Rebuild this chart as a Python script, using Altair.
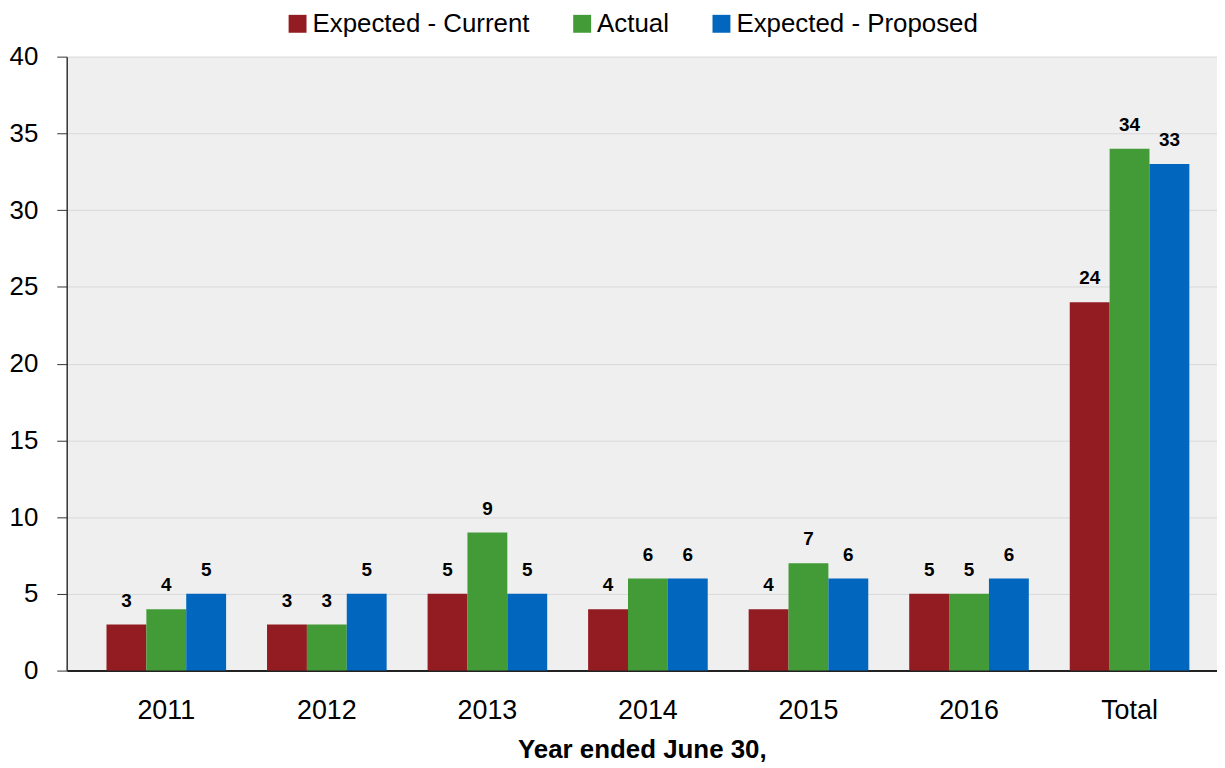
import altair as alt
import pandas as pd

years = ["2011", "2012", "2013", "2014", "2015", "2016", "Total"]
series = ["Expected - Current", "Actual", "Expected - Proposed"]
current = [3, 3, 5, 4, 4, 5, 24]
actual = [4, 3, 9, 6, 7, 5, 34]
proposed = [5, 5, 5, 6, 6, 6, 33]
colors = ["#931C23", "#429B37", "#0066BE"]

rows = []
for name, vals in zip(series, [current, actual, proposed]):
    for y, v in zip(years, vals):
        rows.append({"year": y, "series": name, "value": v})
df = pd.DataFrame(rows)

FONT = "Liberation Sans, Arial, sans-serif"

base = alt.Chart(df).encode(
    x=alt.X(
        "year:N",
        sort=years,
        scale=alt.Scale(paddingInner=0.255, paddingOuter=0.21, align=0.59, round=False),
        axis=alt.Axis(
            title="Year ended June 30,",
            labelAngle=0,
            ticks=False,
            domainColor="#222222",
            domainWidth=2,
            labelFontSize=27,
            labelPadding=27,
            labelColor="#000000",
            titleFontSize=26,
            titleFontWeight="bold",
            titleColor="#000000",
            titlePadding=13,
            grid=False,
        ),
    ),
    xOffset=alt.XOffset("series:N", sort=series,
                        scale=alt.Scale(paddingInner=0, paddingOuter=0, round=False)),
    y=alt.Y(
        "value:Q",
        scale=alt.Scale(domain=[0, 40], nice=False),
        axis=alt.Axis(
            title=None,
            values=[0, 5, 10, 15, 20, 25, 30, 35, 40],
            grid=True,
            gridColor="#D9D9D9",
            gridWidth=1,
            domainColor="#333333",
            domainWidth=1.5,
            tickColor="#333333",
            tickSize=10,
            labelFontSize=26,
            labelPadding=19,
            labelColor="#000000",
        ),
    ),
)

bars = base.mark_bar().encode(
    color=alt.Color(
        "series:N",
        sort=series,
        scale=alt.Scale(domain=series, range=colors),
        legend=alt.Legend(
            title=None,
            orient="none",
            direction="horizontal",
            legendX=219,
            legendY=-46,
            symbolType="square",
            symbolSize=324,
            symbolStrokeWidth=0,
            labelFontSize=26,
            labelColor="#000000",
            labelOffset=2,
            labelLimit=400,
            columnPadding=39,
        ),
    )
)

labels = base.mark_text(
    baseline="bottom", dy=-14, fontSize=19, fontWeight="bold", color="#000000"
).encode(text="value:Q")

chart = (
    alt.layer(bars, labels)
    .properties(
        width=1156,
        height=617,
        autosize=alt.AutoSizeParams(type="none"),
        padding={"left": 59, "top": 47, "right": 0, "bottom": 93},
    )
    .configure(font=FONT)
    .configure_view(fill="#EFEFEF", stroke=None)
)

chart.save("out.html", embed_options={"renderer": "svg", "actions": False})
